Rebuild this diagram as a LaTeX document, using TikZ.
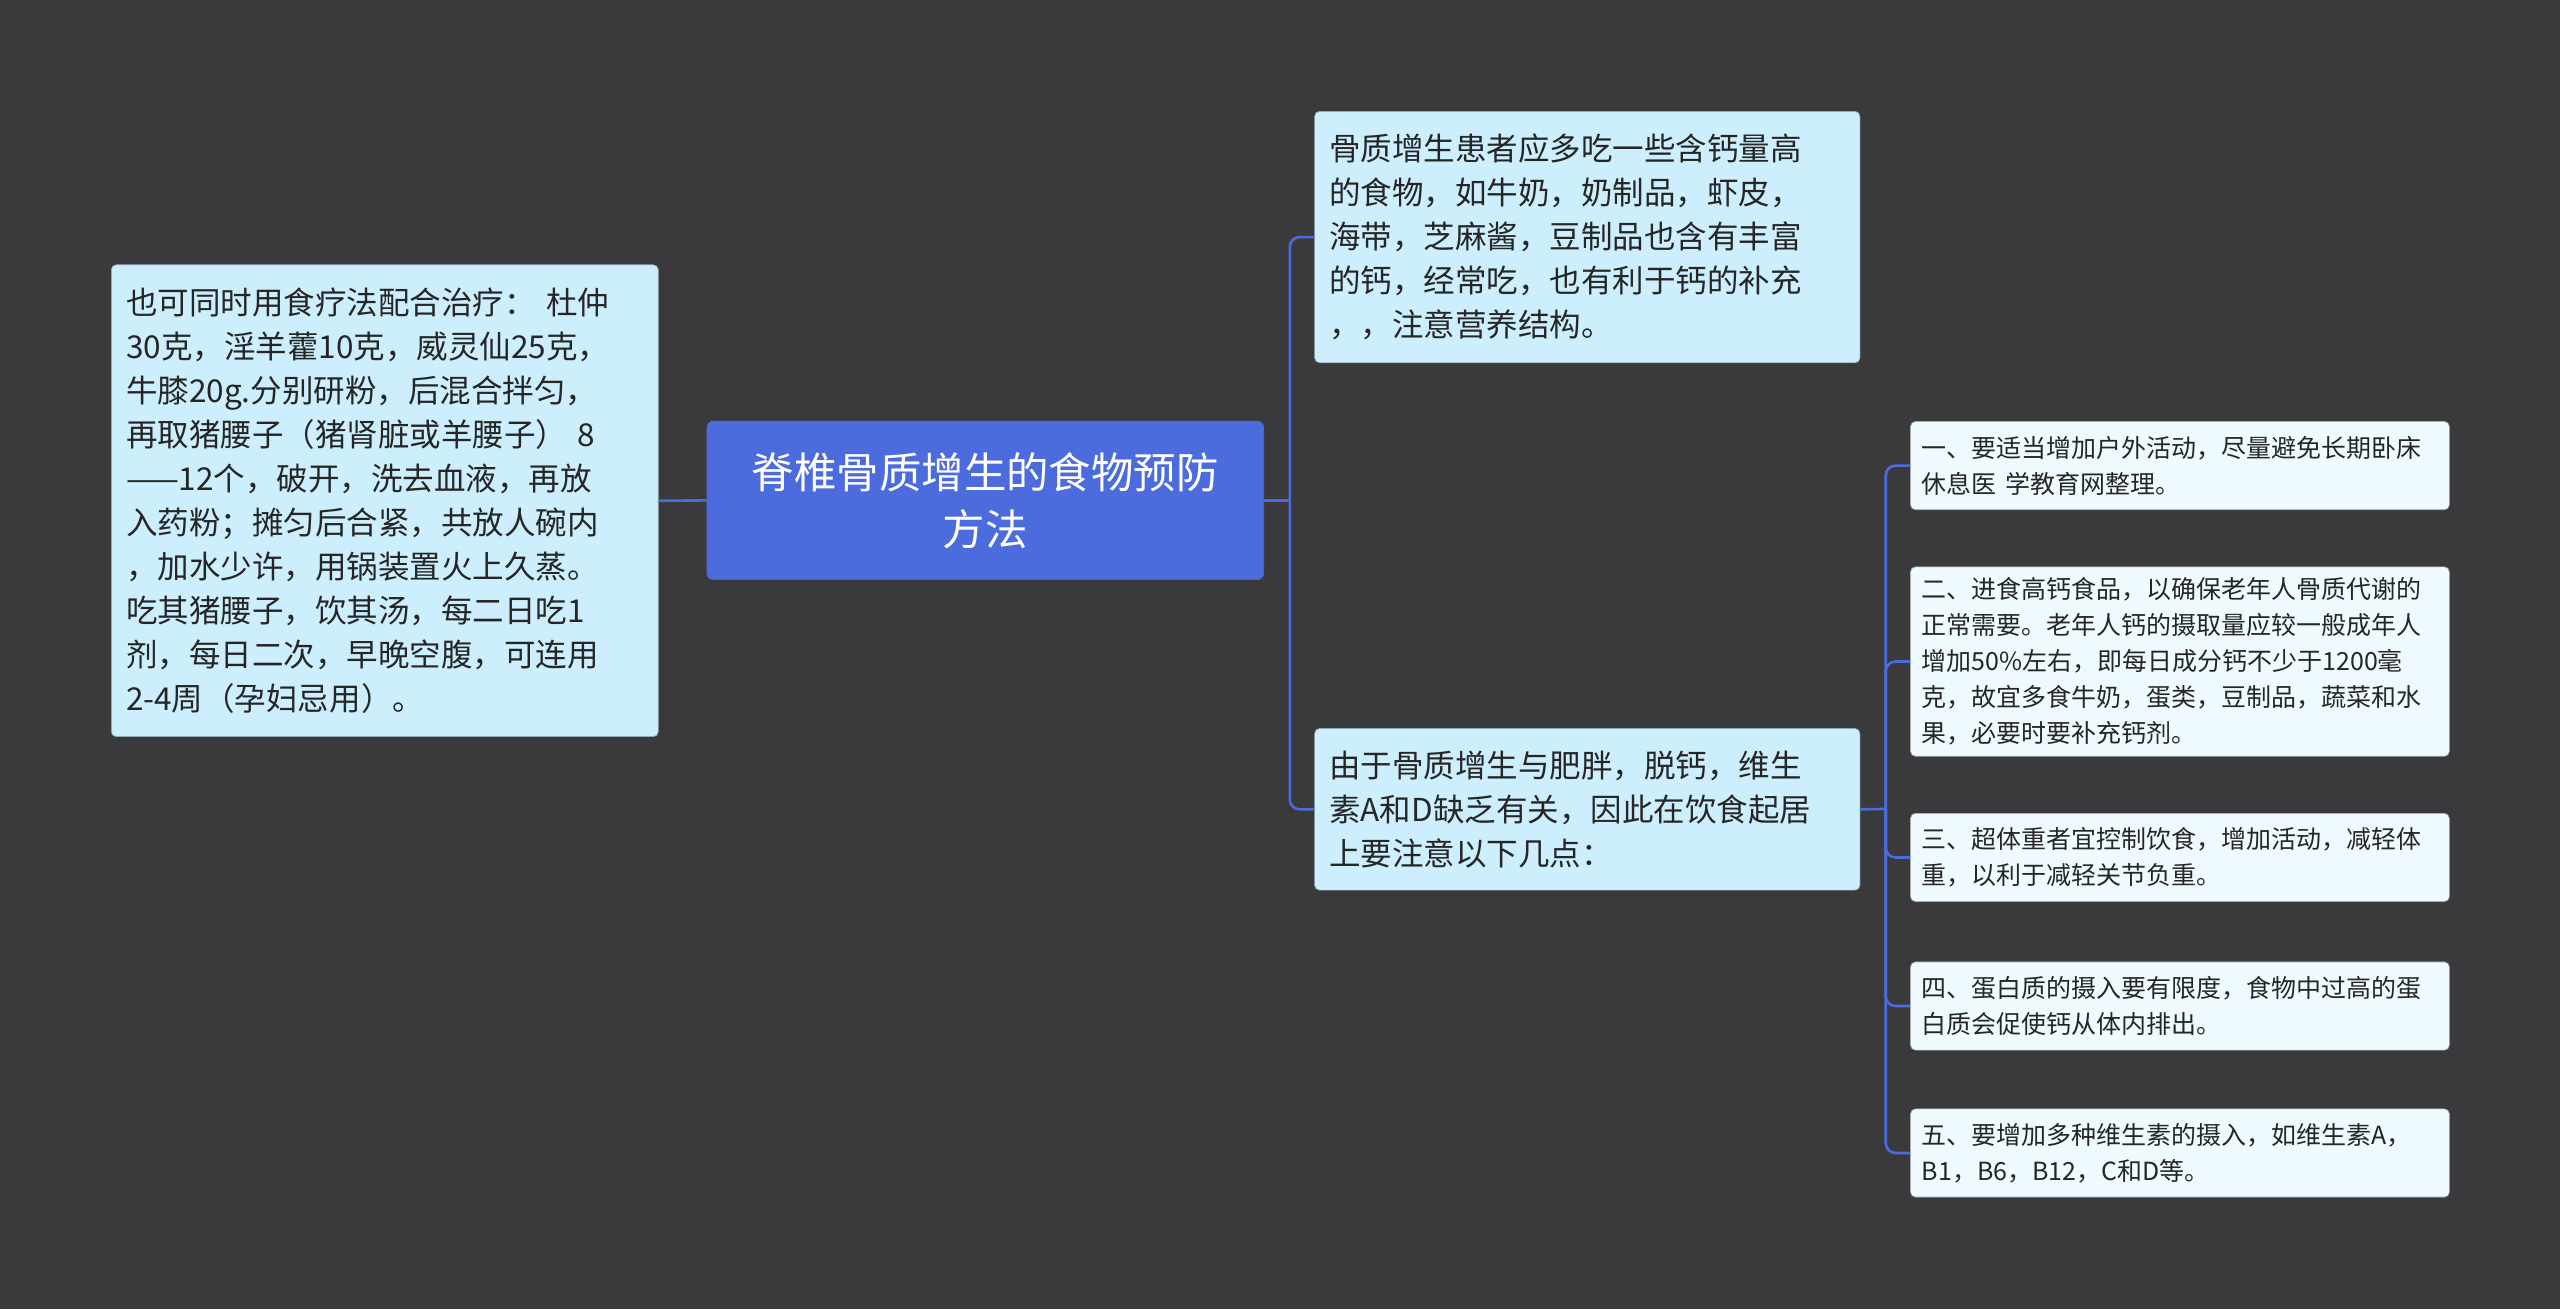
\documentclass[tikz,border=0pt]{standalone}
\usepackage{fontspec}
\setmainfont{Noto Sans CJK SC}
\begin{document}
\begin{tikzpicture}[x=1pt,y=-1pt,
 box/.style={draw=#1!70!black,rounded corners=3pt,fill=#1,anchor=north west,align=left,inner xsep=9pt,inner ysep=0pt,text=black!85},
 big/.style={box=lb,font=\fontsize{19.3}{27}\selectfont},
 small/.style={box=vlb,font=\fontsize{15.3}{22}\selectfont},
 conn/.style={draw=cb,line width=1.6pt,rounded corners=6pt}]
\definecolor{bg}{HTML}{3A393B}
\definecolor{lb}{HTML}{CCEEFD}
\definecolor{vlb}{HTML}{EEFAFE}
\definecolor{cb}{HTML}{4C6BDD}
\definecolor{rt}{HTML}{4C6BDD}
\fill[bg] (0,0) rectangle (1568,802);
\useasboundingbox (0,0) rectangle (1568,802);
\node[draw=rt,fill=rt,rounded corners=4pt,text=white,minimum width=341pt,minimum height=97pt,align=center,font=\fontsize{26}{35}\selectfont] (root) at (603.5,306.5) {脊椎骨质增生的食物预防\\方法};
\node[big,minimum width=335pt,minimum height=289pt,text width=323pt,inner xsep=6pt] (L) at (68,162) {\hspace*{3pt}也可同时用食疗法配合治疗： 杜仲\\\hspace*{3pt}30克，淫羊藿10克，威灵仙25克，\\\hspace*{3pt}牛膝20g.分别研粉，后混合拌匀，\\\hspace*{3pt}再取猪腰子（猪肾脏或羊腰子） 8\\\hspace*{3pt}——12个，破开，洗去血液，再放\\\hspace*{3pt}入药粉；摊匀后合紧，共放人碗内\\\hspace*{3pt}，加水少许，用锅装置火上久蒸。\\\hspace*{3pt}吃其猪腰子，饮其汤，每二日吃1\\\hspace*{3pt}剂，每日二次，早晚空腹，可连用\\\hspace*{3pt}2-4周（孕妇忌用）。};
\node[big,minimum width=334pt,minimum height=154pt,text width=322pt,inner xsep=6pt] (R1) at (805,68) {\hspace*{3pt}骨质增生患者应多吃一些含钙量高\\\hspace*{3pt}的食物，如牛奶，奶制品，虾皮，\\\hspace*{3pt}海带，芝麻酱，豆制品也含有丰富\\\hspace*{3pt}的钙，经常吃，也有利于钙的补充\\\hspace*{3pt}，，注意营养结构。};
\node[big,minimum width=334pt,minimum height=99pt,text width=322pt,inner xsep=6pt] (R2) at (805,446) {\hspace*{3pt}由于骨质增生与肥胖，脱钙，维生\\\hspace*{3pt}素A和D缺乏有关，因此在饮食起居\\\hspace*{3pt}上要注意以下几点：};
\node[small,minimum width=330pt,minimum height=54pt,text width=322pt,inner xsep=4pt] (S1) at (1170,258) {\hspace*{3pt}一、要适当增加户外活动，尽量避免长期卧床\\\hspace*{3pt}休息医 学教育网整理。};
\node[small,minimum width=330pt,minimum height=116pt,text width=322pt,inner xsep=4pt] (S2) at (1170,347) {\hspace*{3pt}二、进食高钙食品，以确保老年人骨质代谢的\\\hspace*{3pt}正常需要。老年人钙的摄取量应较一般成年人\\\hspace*{3pt}增加50\%左右，即每日成分钙不少于1200毫\\\hspace*{3pt}克，故宜多食牛奶，蛋类，豆制品，蔬菜和水\\\hspace*{3pt}果，必要时要补充钙剂。};
\node[small,minimum width=330pt,minimum height=54pt,text width=322pt,inner xsep=4pt] (S3) at (1170,498) {\hspace*{3pt}三、超体重者宜控制饮食，增加活动，减轻体\\\hspace*{3pt}重，以利于减轻关节负重。};
\node[small,minimum width=330pt,minimum height=54pt,text width=322pt,inner xsep=4pt] (S4) at (1170,589) {\hspace*{3pt}四、蛋白质的摄入要有限度，食物中过高的蛋\\\hspace*{3pt}白质会促使钙从体内排出。};
\node[small,minimum width=330pt,minimum height=54pt,text width=322pt,inner xsep=4pt] (S5) at (1170,679) {\hspace*{3pt}五、要增加多种维生素的摄入，如维生素A，\\\hspace*{3pt}B1，B6，B12，C和D等。};
\coordinate (j1) at (790,306.5);
\coordinate (j2) at (1155,495.5);
\draw[conn] (root.east) -- (j1);
\draw[conn] (j1) |- (R1.west);
\draw[conn] (j1) |- (R2.west);
\draw[conn] (root.west) -- (L.east);
\draw[conn] (R2.east) -- (j2);
\foreach \s in {S1,S2,S3,S4,S5} \draw[conn] (j2) |- (\s.west);
\end{tikzpicture}
\end{document}
